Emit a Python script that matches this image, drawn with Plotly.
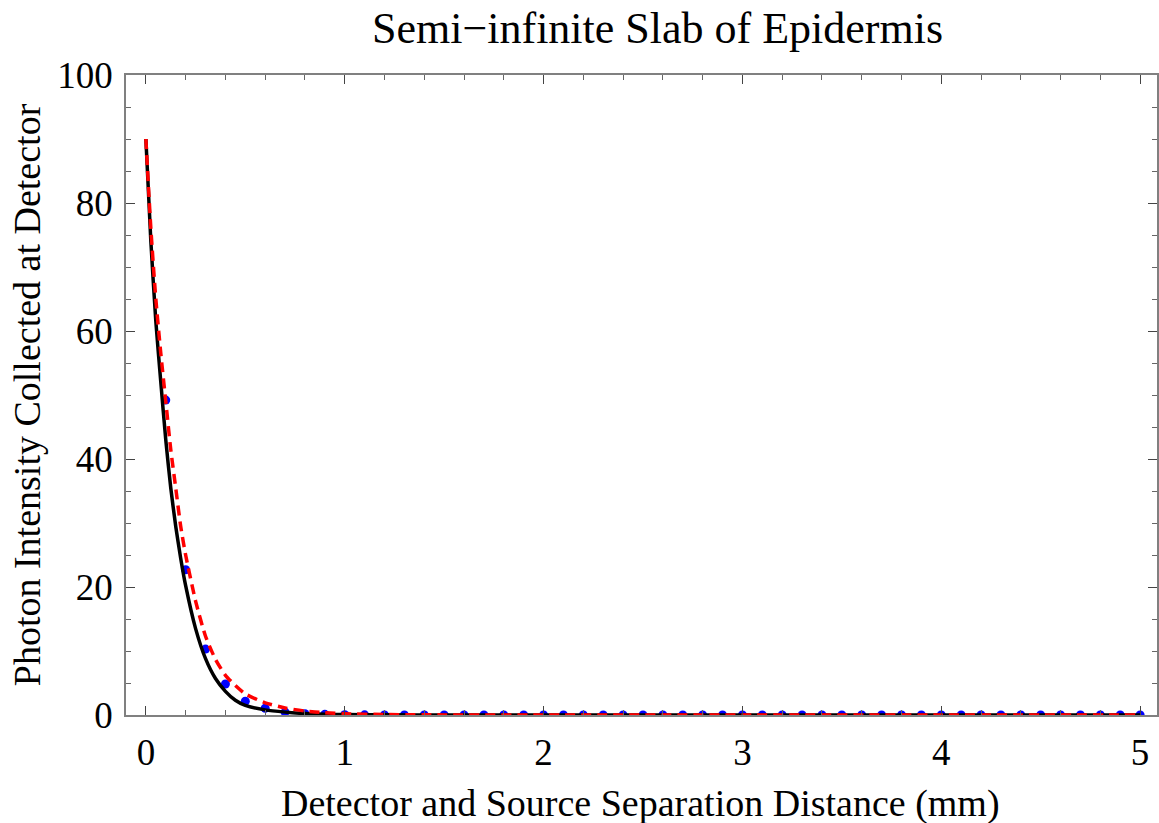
import plotly.graph_objects as go

# Separation distance (mm) and photon intensity for the diffusion-theory curves
dist_curve = [0.0, 0.025, 0.05, 0.075, 0.1, 0.125, 0.15, 0.175, 0.2, 0.25, 0.3, 0.35,
              0.4, 0.45, 0.5, 0.6, 0.7, 0.8, 0.9, 1.0, 1.2, 1.5, 2.0, 3.0, 4.0, 5.0]
intensity_solid = [90.0, 74.0, 61.5, 52.0, 43.0, 35.5, 29.5, 24.5, 20.2, 13.5, 8.8, 5.7,
                   3.7, 2.3, 1.5, 0.8, 0.45, 0.22, 0.12, 0.06, 0.02, 0.0, 0.0, 0.0, 0.0, 0.0]
intensity_dashed = [90.0, 76.0, 65.0, 56.5, 49.0, 41.5, 35.5, 29.5, 25.0, 17.8, 12.3, 8.7,
                    6.2, 4.6, 3.3, 1.9, 1.1, 0.62, 0.35, 0.2, 0.07, 0.015, 0.0, 0.0, 0.0, 0.0]

# Simulated detector readings, every 0.1 mm
dist_points = [round(0.1 * i, 1) for i in range(1, 51)]
intensity_points = [49.2, 22.7, 10.3, 4.85, 2.15, 1.05, 0.45, 0.2, 0.1, 0.05, 0.02] + [0.0] * 39

x_ticks = [0, 1, 2, 3, 4, 5]
y_ticks = [0, 20, 40, 60, 80, 100]

FONT = "Liberation Serif"

fig = go.Figure()
fig.add_trace(go.Scatter(x=dist_points, y=intensity_points, mode="markers",
                         marker=dict(color="#0000ff", size=9), showlegend=False))
fig.add_trace(go.Scatter(x=dist_curve, y=intensity_solid, mode="lines",
                         line=dict(color="black", width=3.5, shape="spline", smoothing=0.6),
                         showlegend=False))
fig.add_trace(go.Scatter(x=dist_curve, y=intensity_dashed, mode="lines",
                         line=dict(color="#ff0000", width=3.5, dash="10px,6px",
                                   shape="spline", smoothing=0.6),
                         showlegend=False))

axis_common = dict(
    showgrid=False, zeroline=False, showline=True, linecolor="#808080", linewidth=1.5,
    mirror="ticks", ticks="inside", tickcolor="#444444", tickwidth=1.2, ticklen=9,
    tickfont=dict(family=FONT, size=37, color="black"),
)

fig.update_xaxes(
    range=[-0.1, 5.085], tickvals=x_ticks, ticktext=[str(v) for v in x_ticks],
    minor=dict(ticks="inside", dtick=0.2, ticklen=5, tickcolor="#666666", tickwidth=1),
    ticklabelstandoff=4,
    **axis_common,
)
fig.update_yaxes(
    range=[0, 100], tickvals=y_ticks, ticktext=[str(v) for v in y_ticks],
    minor=dict(ticks="inside", dtick=5, ticklen=5, tickcolor="#666666", tickwidth=1),
    ticklabelstandoff=4,
    **axis_common,
)

label_font = dict(family=FONT, size=38, color="black")
fig.add_annotation(text="Detector and Source Separation Distance (mm)",
                   xref="paper", yref="paper", x=0.499, y=-0.1375,
                   xanchor="center", yanchor="middle", showarrow=False, font=label_font)
fig.add_annotation(text="Photon Intensity Collected at Detector",
                   xref="paper", yref="paper", x=-0.0958, y=0.5, textangle=-90,
                   xanchor="center", yanchor="middle", showarrow=False, font=label_font)
fig.add_annotation(text="Semi\u2212infinite Slab of Epidermis",
                   xref="paper", yref="paper", x=0.5155, y=1.072,
                   xanchor="center", yanchor="middle", showarrow=False,
                   font=dict(family=FONT, size=44, color="black"))

fig.update_layout(
    width=1159, height=823,
    margin=dict(l=126, r=0, t=75, b=108),
    paper_bgcolor="white", plot_bgcolor="white",
)

fig.write_html("out.html")
